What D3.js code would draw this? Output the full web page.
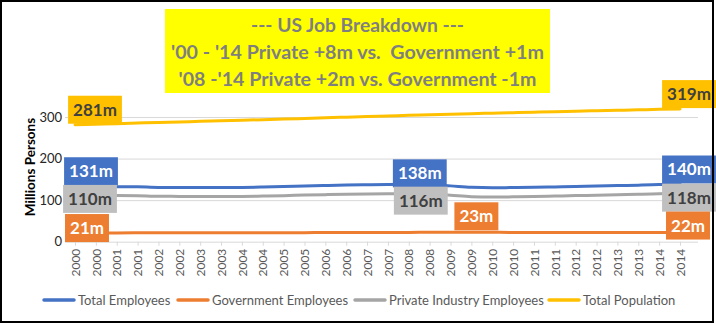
<!DOCTYPE html>
<html>
<head>
<meta charset="utf-8">
<script src="https://cdn.jsdelivr.net/npm/d3@7"></script>
<style>
  body{margin:0;background:#fff;}
  svg{display:block;font-family:Lato,"Open Sans",sans-serif;}
</style>
</head>
<body>
<svg id="chart" width="716" height="324"></svg>
<script>
const periods=["2000","2000","2001","2001","2002","2002","2003","2003","2004","2004","2005","2005","2006","2006","2007","2007",
  "2008","2008","2009","2009","2010","2010","2011","2011","2012","2012","2013","2013","2014","2014"];
const totalEmployees=[131.0,132.0,132.4,132.0,130.6,130.5,130.3,130.1,130.5,131.4,132.5,133.9,135.1,136.2,137.0,137.7,
  138.0,137.3,134.3,131.0,129.8,130.3,130.7,131.8,132.9,133.8,135.0,136.0,137.4,140.0];
const governmentEmployees=[20.8,21.0,21.2,21.3,21.4,21.5,21.6,21.6,21.6,21.6,21.7,21.8,21.9,22.0,22.1,22.3,
  22.4,22.5,22.6,22.6,22.5,22.4,22.2,22.1,22.0,21.9,21.9,21.9,21.9,22.0];
const privateEmployees=[110.2,111.0,111.2,110.7,109.2,109.0,108.7,108.5,108.9,109.8,110.8,112.1,113.2,114.2,114.9,115.4,
  115.6,114.8,111.7,108.4,107.3,107.9,108.5,109.7,110.9,111.9,113.1,114.1,115.5,118.0];
const totalPopulation=[281.4,282.7,284.0,285.4,286.8,288.1,289.5,290.8,292.2,293.6,295.0,296.5,298.0,299.6,301.2,302.6,
  304.1,305.4,306.8,308.1,309.3,310.5,311.6,312.7,313.9,315.0,316.1,317.2,318.4,319.0];
const yTicks=[0,100,200,300];
const titleLines=["--- US Job Breakdown ---","'00 - '14 Private +8m vs.  Government +1m","'08 -'14 Private +2m vs. Government -1m"];

const series=[
  {name:"Total Employees",values:totalEmployees,color:"#4472C4",labelText:"#fff"},
  {name:"Government Employees",values:governmentEmployees,color:"#ED7D31",labelText:"#fff"},
  {name:"Private Industry Employees",values:privateEmployees,color:"#A5A5A5",box:"#BFBFBF",labelText:"#404040"},
  {name:"Total Population",values:totalPopulation,color:"#FFC000",labelText:"#404040"}
];
// which points carry a label, and where the box sits relative to the point
const pointLabels=[
  {s:3,i:0,dx:20,dy:-15},{s:0,i:0,dx:16,dy:-16},{s:2,i:0,dx:15,dy:3},{s:1,i:0,dx:12,dy:-5},
  {s:0,i:16,dx:11,dy:-11},{s:2,i:16,dx:12,dy:7},{s:1,i:19,dx:5,dy:-16},
  {s:3,i:29,dx:9,dy:-15},{s:0,i:29,dx:9,dy:-14},{s:2,i:29,dx:9,dy:5},{s:1,i:29,dx:8,dy:-7}
];

const svg=d3.select("#chart");
const plot={left:65,right:698,top:117,bottom:241.7};

const x=d3.scalePoint().domain(d3.range(periods.length)).range([75,680]);
const y=d3.scaleLinear().domain([0,300]).range([plot.bottom,plot.top]);

svg.append("g").selectAll("line").data(yTicks).join("line")
  .attr("x1",plot.left).attr("x2",plot.right).attr("y1",d=>y(d)+0.5).attr("y2",d=>y(d)+0.5)
  .attr("stroke","#D9D9D9").attr("stroke-width",1);

const yAxis=svg.append("g").attr("transform",`translate(${plot.left},0)`)
  .call(d3.axisLeft(y).tickValues(yTicks).tickSize(0).tickPadding(3));
yAxis.select(".domain").remove();
yAxis.selectAll("text").attr("font-size",13).attr("fill","#262626").attr("font-family","Lato,sans-serif");

const xAxis=svg.append("g").attr("transform",`translate(0,${plot.bottom})`)
  .call(d3.axisBottom(x).tickSize(4).tickFormat(i=>periods[i]));
xAxis.select(".domain").remove();
xAxis.selectAll("line").attr("stroke","#D9D9D9");
xAxis.selectAll("text").attr("font-size",12).attr("fill","#595959").attr("font-family","Lato,sans-serif")
  .attr("transform","rotate(-90)").attr("text-anchor","end").attr("x",-7).attr("y",0).attr("dy","0.35em");

svg.append("text").attr("transform","translate(30,167) rotate(-90)").attr("text-anchor","middle")
  .attr("dy","0.35em").attr("font-size",13.5).attr("font-weight","bold").attr("fill","#000").text("Millions Persons");

const line=d3.line().x((d,i)=>x(i)).y(d=>y(d)).curve(d3.curveMonotoneX);
svg.append("g").selectAll("path").data(series).join("path")
  .attr("d",d=>line(d.values)).attr("fill","none").attr("stroke",d=>d.color)
  .attr("stroke-width",3).attr("stroke-linejoin","round").attr("stroke-linecap","round");

const lab=svg.append("g").selectAll("g").data(pointLabels).join("g")
  .attr("transform",d=>`translate(${x(d.i)+d.dx},${y(series[d.s].values[d.i])+d.dy})`);
lab.append("rect").attr("fill",d=>series[d.s].box||series[d.s].color);
lab.append("text").attr("text-anchor","middle").attr("dy","0.35em").attr("font-size",17).attr("font-weight","bold")
  .attr("fill",d=>series[d.s].labelText).text(d=>Math.round(series[d.s].values[d.i])+"m");
lab.each(function(){
  const g=d3.select(this),w=g.select("text").node().getComputedTextLength()+10;
  g.select("rect").attr("x",-w/2).attr("y",-14).attr("width",w).attr("height",28);
});

const titleWidths=[213,373,358];
const title=svg.append("g");
title.append("rect").attr("x",165).attr("y",9).attr("width",385).attr("height",84).attr("fill","#FFFF00");
title.selectAll("text").data(titleLines).join("text")
  .attr("x",357.5).attr("y",(d,i)=>25+i*27).attr("dy","0.35em").attr("text-anchor","middle")
  .attr("font-size",19).attr("font-weight","bold").attr("fill","#7F7F7F").style("white-space","pre")
  .attr("textLength",(d,i)=>titleWidths[i]).attr("lengthAdjust","spacingAndGlyphs").text(d=>d);

const legendX=[43,177,354,548];
const legend=svg.append("g").selectAll("g").data(series).join("g")
  .attr("transform",(d,i)=>`translate(${legendX[i]},300)`);
legend.append("line").attr("x1",1).attr("x2",31).attr("stroke",d=>d.color).attr("stroke-width",3.5).attr("stroke-linecap","round");
legend.append("text").attr("x",35).attr("dy","0.35em").attr("font-size",13).attr("fill","#595959").text(d=>d.name);

svg.append("rect").attr("x",1).attr("y",1).attr("width",712).attr("height",321)
  .attr("fill","none").attr("stroke","#000").attr("stroke-width",2);
</script>
</body>
</html>
